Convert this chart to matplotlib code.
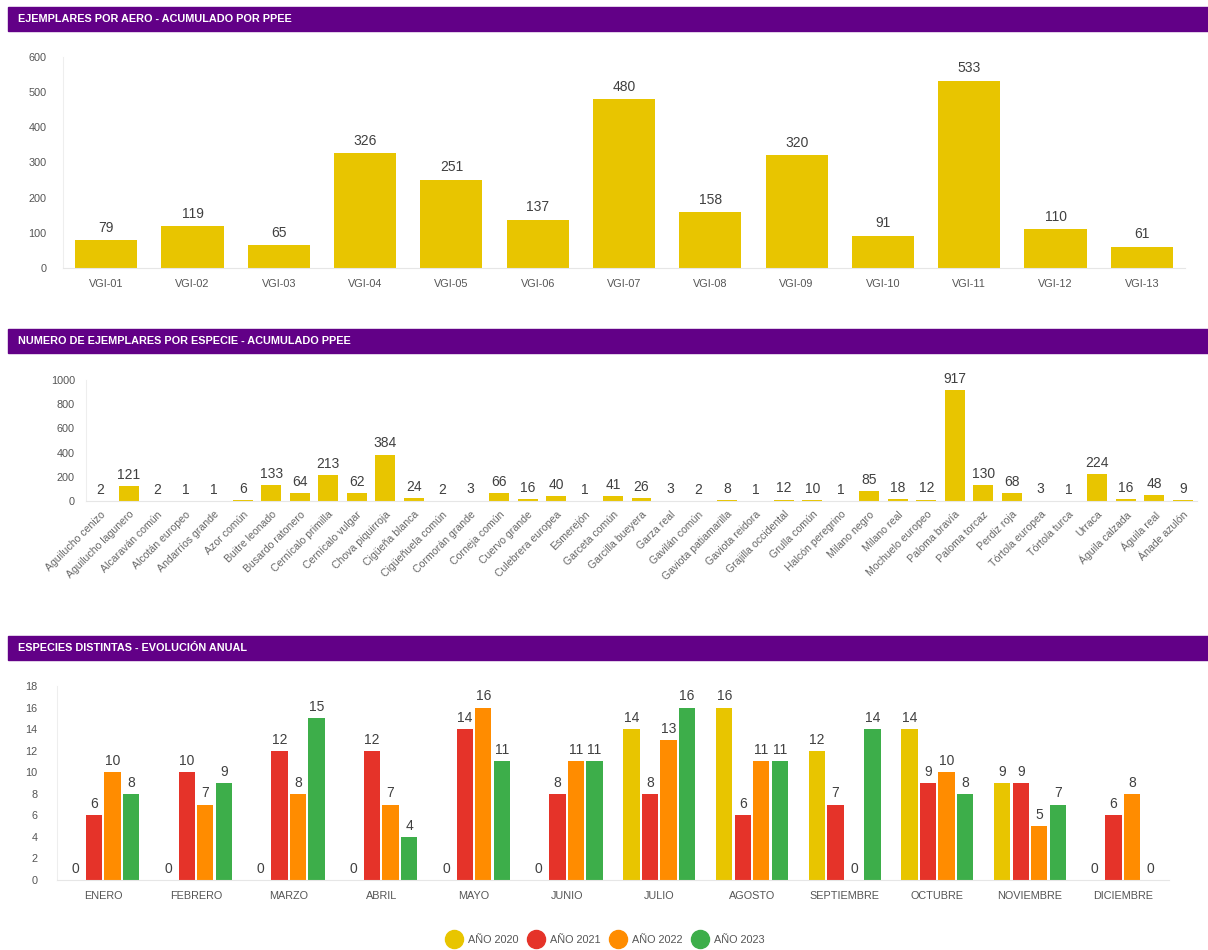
import numpy as np
import matplotlib
matplotlib.use("Agg")
import matplotlib.pyplot as plt
from matplotlib.patches import Rectangle
from matplotlib.lines import Line2D

# Data
aeros = ["VGI-01", "VGI-02", "VGI-03", "VGI-04", "VGI-05", "VGI-06", "VGI-07",
         "VGI-08", "VGI-09", "VGI-10", "VGI-11", "VGI-12", "VGI-13"]
aero_vals = [79, 119, 65, 326, 251, 137, 480, 158, 320, 91, 533, 110, 61]

especies = ["Aguilucho cenizo", "Aguilucho lagunero", "Alcaraván común", "Alcotán europeo",
            "Andarríos grande", "Azor común", "Buitre leonado", "Busardo ratonero",
            "Cernícalo primilla", "Cernícalo vulgar", "Chova piquirroja", "Cigüeña blanca",
            "Cigüeñuela común", "Cormorán grande", "Corneja común", "Cuervo grande",
            "Culebrera europea", "Esmerejón", "Garceta común", "Garcilla bueyera",
            "Garza real", "Gavilán común", "Gaviota patiamarilla", "Gaviota reidora",
            "Grajilla occidental", "Grulla común", "Halcón peregrino", "Milano negro",
            "Milano real", "Mochuelo europeo", "Paloma bravía", "Paloma torcaz",
            "Perdiz roja", "Tórtola europea", "Tórtola turca", "Urraca",
            "Águila calzada", "Águila real", "Ánade azulón"]
especie_vals = [2, 121, 2, 1, 1, 6, 133, 64, 213, 62, 384, 24, 2, 3, 66, 16, 40, 1, 41, 26,
                3, 2, 8, 1, 12, 10, 1, 85, 18, 12, 917, 130, 68, 3, 1, 224, 16, 48, 9]

meses = ["ENERO", "FEBRERO", "MARZO", "ABRIL", "MAYO", "JUNIO", "JULIO", "AGOSTO",
         "SEPTIEMBRE", "OCTUBRE", "NOVIEMBRE", "DICIEMBRE"]
anios = ["AÑO 2020", "AÑO 2021", "AÑO 2022", "AÑO 2023"]
y2020 = [0, 0, 0, 0, 0, 0, 14, 16, 12, 14, 9, 0]
y2021 = [6, 10, 12, 12, 14, 8, 8, 6, 7, 9, 9, 6]
y2022 = [10, 7, 8, 7, 16, 11, 13, 11, 0, 10, 5, 8]
y2023 = [8, 9, 15, 4, 11, 11, 16, 11, 14, 8, 7, 0]

W, H = 1208, 950
YELLOW = "#E8C500"
COLORS = [YELLOW, "#E53329", "#FF8C00", "#3DAE4A"]
PURPLE = "#620087"
TICK = "#555555"
VAL = "#404040"

plt.rcParams["font.family"] = ["Liberation Sans", "DejaVu Sans"]

fig = plt.figure(figsize=(W / 100, H / 100), dpi=100)


def px_axes(x0, y0, x1, y1):
    # pixel box (top-left origin) -> figure axes
    return fig.add_axes([x0 / W, 1 - y1 / H, (x1 - x0) / W, (y1 - y0) / H])


def header(y0, y1, text):
    fig.patches.append(Rectangle((8 / W, 1 - y1 / H), (W - 8) / W, (y1 - y0) / H,
                                 transform=fig.transFigure, color=PURPLE, zorder=0))
    fig.text(18 / W, 1 - (y0 + y1) / 2 / H, text, color="white", fontsize=7.8,
             fontweight="bold", va="center", ha="left")


def style(ax):
    for s in ["top", "right"]:
        ax.spines[s].set_visible(False)
    ax.spines["left"].set_color("#eeeeee")
    ax.spines["bottom"].set_color("#e6e6e6")
    ax.tick_params(length=0, colors=TICK, labelsize=7.8)


# Chart 1
header(7, 31, "EJEMPLARES POR AERO - ACUMULADO POR PPEE")
ax1 = px_axes(63, 57, 1185, 268)
x = np.arange(len(aeros))
bars = ax1.bar(x, aero_vals, width=0.72, color=YELLOW)
ax1.bar_label(bars, padding=4, fontsize=10, color=VAL)
ax1.set_xlim(-0.5, len(aeros) - 0.5)
ax1.set_ylim(0, 600)
ax1.set_yticks(range(0, 601, 100))
ax1.set_xticks(x, aeros)
ax1.tick_params(axis="x", pad=8)
ax1.tick_params(axis="y", pad=12)
style(ax1)

# Chart 2
header(329, 353, "NUMERO DE EJEMPLARES POR ESPECIE - ACUMULADO PPEE")
ax2 = px_axes(86, 380, 1197, 501)
x = np.arange(len(especies))
bars = ax2.bar(x, especie_vals, width=0.7, color=YELLOW)
ax2.bar_label(bars, padding=3, fontsize=10, color=VAL)
ax2.set_xlim(-0.5, len(especies) - 0.5)
ax2.set_ylim(0, 1000)
ax2.set_yticks(range(0, 1001, 200))
ax2.set_xticks(x, especies, rotation=45, ha="right", rotation_mode="anchor")
style(ax2)
ax2.tick_params(axis="x", pad=6, labelsize=7.6, colors="#666666")
ax2.tick_params(axis="y", pad=8)

# Chart 3
header(636, 660, "ESPECIES DISTINTAS - EVOLUCIÓN ANUAL")
ax3 = px_axes(57, 686, 1169, 880)
x = np.arange(len(meses))
series = [y2020, y2021, y2022, y2023]
pitch = 0.2
for i, (vals, c) in enumerate(zip(series, COLORS)):
    b = ax3.bar(x + (i - 1.5) * pitch, vals, width=0.175, color=c)
    ax3.bar_label(b, padding=3, fontsize=10, color=VAL)
ax3.set_xlim(-0.5, len(meses) - 0.5)
ax3.set_ylim(0, 18)
ax3.set_yticks(range(0, 19, 2))
ax3.set_xticks(x, meses)
ax3.tick_params(axis="x", pad=8)
ax3.tick_params(axis="y", pad=14)
style(ax3)

handles = [Line2D([], [], marker="o", ls="", markersize=13, color=c) for c in COLORS]
fig.legend(handles, anios, loc="center", bbox_to_anchor=(604 / W, 1 - 940 / H),
           ncol=4, frameon=False, fontsize=7.8, handletextpad=0.3, columnspacing=0.6,
           labelcolor=TICK)

fig.savefig("out.png", dpi=100)
